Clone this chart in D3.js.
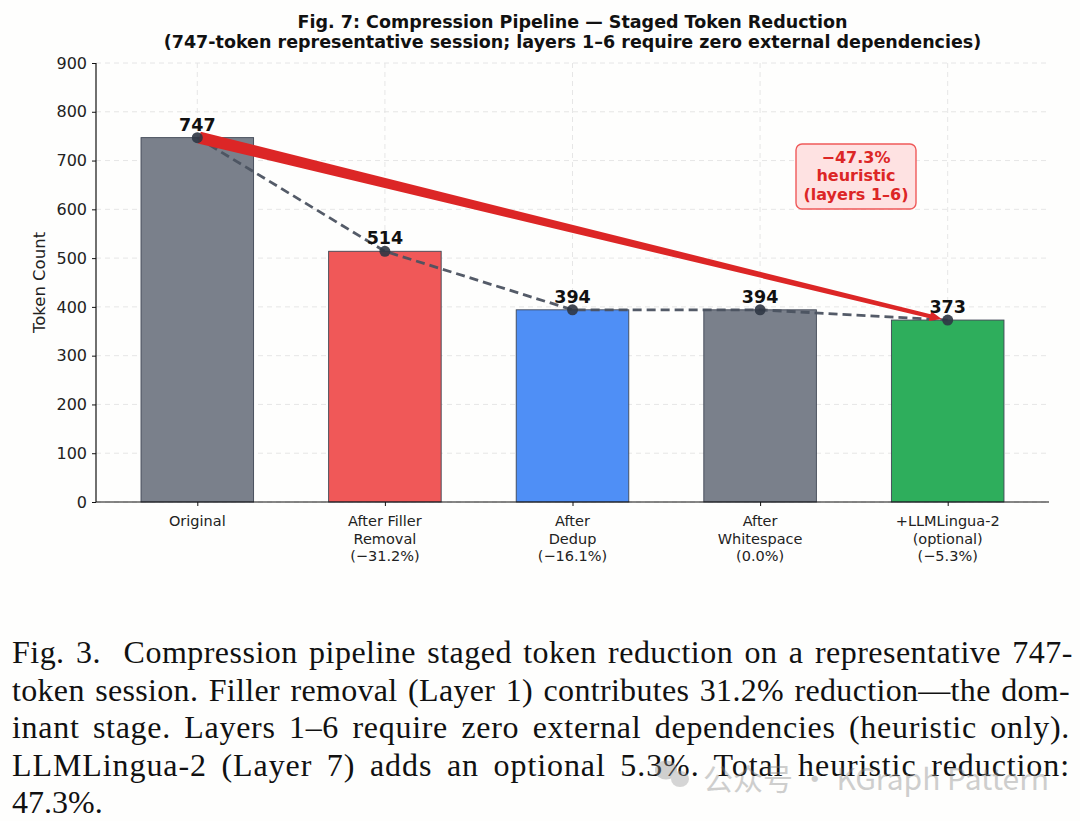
<!DOCTYPE html>
<html><head><meta charset="utf-8">
<script src="https://cdn.jsdelivr.net/npm/d3@7"></script>
<style>html,body{margin:0;padding:0;background:#fefefd;}svg{display:block;}</style>
</head><body>
<svg id="c" width="1080" height="821"></svg>
<script>
const categories = [["Original"],["After Filler","Removal","(\u221231.2%)"],["After","Dedup","(\u221216.1%)"],["After","Whitespace","(0.0%)"],["+LLMLingua-2","(optional)","(\u22125.3%)"]];
const values = [747, 514, 394, 394, 373];
const barColors = ["#7a808b","#f05858","#4f8ff6","#7a808b","#2eae5c"];
const yTicks = [0,100,200,300,400,500,600,700,800,900];
const titleLines = ["Fig. 7: Compression Pipeline \u2014 Staged Token Reduction","(747-token representative session; layers 1\u20136 require zero external dependencies)"];
const annotLines = ["\u221247.3%","heuristic","(layers 1\u20136)"];
const captionLines = [
 "Fig. 3.\u00a0 Compression pipeline staged token reduction on a representative 747-",
 "token session. Filler removal (Layer 1) contributes 31.2% reduction\u2014the dom-",
 "inant stage. Layers 1\u20136 require zero external dependencies (heuristic only).",
 "LLMLingua-2 (Layer 7) adds an optional 5.3%. Total heuristic reduction:",
 "47.3%."];
const watermark = "\u516c\u4f17\u53f7 \u00b7 KGraph Pattern";

const svg = d3.select("#c");
const L=96, R=1049, T=63, B=502;
const x = d3.scaleLinear().domain([-0.54, 4.54]).range([L, R]);
const y = d3.scaleLinear().domain([0, 900]).range([B, T]);
const bw = x(0.3)-x(0);
const font = "DejaVu Sans, sans-serif";

// grid
const g = svg.append("g");
g.selectAll(".hg").data(yTicks).join("line").attr("x1",L).attr("x2",R)
 .attr("y1",d=>y(d)).attr("y2",d=>y(d)).attr("stroke","#e3e3e3").attr("stroke-width",0.9).attr("stroke-dasharray","5,4");
g.selectAll(".vg").data(values).join("line").attr("x1",(d,i)=>x(i)).attr("x2",(d,i)=>x(i))
 .attr("y1",T).attr("y2",B).attr("stroke","#e3e3e3").attr("stroke-width",0.9).attr("stroke-dasharray","5,4");

// bars
g.selectAll(".bar").data(values).join("rect")
 .attr("x",(d,i)=>x(i)-bw).attr("width",2*bw).attr("y",d=>y(d)).attr("height",d=>B-y(d))
 .attr("fill",(d,i)=>barColors[i]).attr("stroke","#3f4654").attr("stroke-width",0.9);

// dashed line
const line = d3.line().x((d,i)=>x(i)).y(d=>y(d));
g.append("path").datum(values).attr("d",line).attr("fill","none")
 .attr("stroke","#4b5260").attr("stroke-width",2.8).attr("stroke-dasharray","9,5").attr("opacity",0.95);

// red tapered arrow
const sx=x(0)+2, sy=y(values[0]), ex=x(4)-6, ey=y(values[4])-1;
const dx=ex-sx, dy=ey-sy, len=Math.hypot(dx,dy), ux=dx/len, uy=dy/len, nx=-uy, ny=ux;
const w0=6, w1=2, hl=12, hw=5;
const bx=ex-ux*hl, by=ey-uy*hl;
const pts=[[sx+nx*w0,sy+ny*w0],[bx+nx*w1,by+ny*w1],[bx+nx*hw,by+ny*hw],[ex,ey],[bx-nx*hw,by-ny*hw],[bx-nx*w1,by-ny*w1],[sx-nx*w0,sy-ny*w0]];
g.append("polygon").attr("points",pts.map(p=>p.join(",")).join(" ")).attr("fill","#dc2626");

// markers
g.selectAll(".pt").data(values).join("circle").attr("cx",(d,i)=>x(i)).attr("cy",d=>y(d)).attr("r",5.5)
 .attr("fill","#2f3644").attr("opacity",0.9);

// value labels
g.selectAll(".vl").data(values).join("text").attr("x",(d,i)=>x(i)).attr("y",d=>y(d)-7)
 .attr("text-anchor","middle").attr("font-family",font).attr("font-weight","bold").attr("font-size",17.5).attr("fill","#111").text(d=>d);

// axes
const ya = svg.append("g").attr("transform",`translate(${L},0)`).call(d3.axisLeft(y).tickValues(yTicks).tickSize(4).tickPadding(5));
ya.select(".domain").attr("d",`M0,${T}V${B}`).attr("stroke","#111").attr("stroke-width",1.2);
ya.selectAll("text").attr("font-family",font).attr("font-size",16).attr("fill","#222");
ya.selectAll(".tick line").attr("stroke","#111");
const xa = svg.append("g").attr("transform",`translate(0,${B})`).call(d3.axisBottom(x).tickValues([0,1,2,3,4]).tickSize(4).tickFormat(""));
xa.select(".domain").attr("d",`M${L},0H${R}`).attr("stroke","#111").attr("stroke-width",1.2);
xa.selectAll(".tick line").attr("stroke","#111");
categories.forEach((lines,i)=>{
  lines.forEach((t,j)=>{
    svg.append("text").attr("x",x(i)).attr("y",B+24+j*17.5).attr("text-anchor","middle")
      .attr("font-family",font).attr("font-size",14.5).attr("fill","#222").text(t);
  });
});
svg.append("text").attr("transform",`translate(45,${(T+B)/2}) rotate(-90)`).attr("text-anchor","middle")
 .attr("font-family",font).attr("font-size",16.5).attr("fill","#222").text("Token Count");

// title
titleLines.forEach((t,i)=>{
  svg.append("text").attr("x",(L+R)/2).attr("y",28+i*19.5).attr("text-anchor","middle")
   .attr("font-family",font).attr("font-weight","bold").attr("font-size",17.5).attr("fill","#111").text(t);
});

// annotation box
svg.append("rect").attr("x",796).attr("y",144).attr("width",120).attr("height",65).attr("rx",6)
 .attr("fill","#fee2e2").attr("stroke","#ef5a5a").attr("stroke-width",1.4);
annotLines.forEach((t,i)=>{
  svg.append("text").attr("x",856).attr("y",163+i*18.3).attr("text-anchor","middle")
   .attr("font-family",font).attr("font-weight","bold").attr("font-size",16).attr("fill","#dc2626").text(t);
});

// caption (justified: extra space shared between letters and words)
captionLines.forEach((t,i)=>{
  const tx = svg.append("text").attr("x",12).attr("y",663+i*37.6)
   .attr("font-family","Liberation Serif, Times New Roman, serif").attr("font-size",32).attr("fill","#111").text(t);
  if(i<captionLines.length-1){
    const w = tx.node().getComputedTextLength();
    const extra = 1058 - w;
    if (extra > 0) {
      const spaces = (t.match(/ /g)||[]).length;
      const ls = extra*0.55/(t.length-1);
      tx.attr("letter-spacing", ls);
      const w2 = tx.node().getComputedTextLength();
      tx.attr("word-spacing", Math.max(0,(1058 - w2)/spaces));
    } else tx.attr("textLength",1058).attr("lengthAdjust","spacingAndGlyphs");
  }
});

// watermark
const wm = svg.append("g").attr("opacity",0.4);
wm.append("ellipse").attr("cx",666).attr("cy",770).attr("rx",11).attr("ry",9.5).attr("fill","#8a8a8a");
wm.append("ellipse").attr("cx",680).attr("cy",779).attr("rx",9).attr("ry",8).attr("fill","#9a9a9a");
wm.append("text").attr("x",703).attr("y",790).attr("font-family","Noto Sans CJK SC, sans-serif").attr("font-size",30).attr("fill","#888").text(watermark);
</script>
</body></html>
